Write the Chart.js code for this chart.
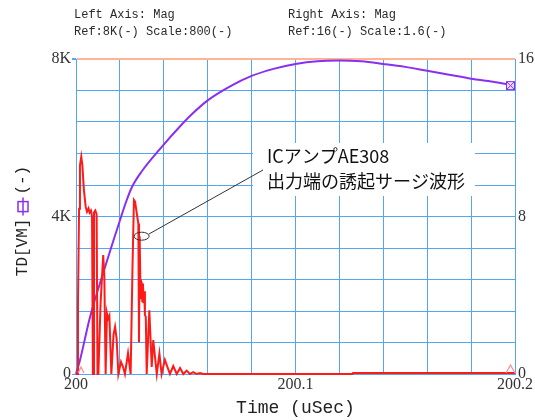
<!DOCTYPE html>
<html>
<head>
<meta charset="utf-8">
<script src="https://cdn.jsdelivr.net/npm/chart.js@4"></script>
<style>
  html, body { margin: 0; padding: 0; background: #fff; }
  canvas { display: block; }
</style>
</head>
<body>
<canvas id="myChart" width="535" height="420"></canvas>
<script>
// red trace (left axis, 0..8K)
const redT = [200.0000, 200.0007, 200.0009, 200.0014, 200.0018, 200.0024, 200.0029, 200.0036, 200.0044, 200.0050,
  200.0057, 200.0062, 200.0068, 200.0073, 200.0077, 200.0080, 200.0082, 200.0088, 200.0094, 200.0098,
  200.0102, 200.0112, 200.0124, 200.0129, 200.0135, 200.0141, 200.0146, 200.0152, 200.0161, 200.0171,
  200.0178, 200.0185, 200.0193, 200.0205, 200.0214, 200.0223, 200.0237, 200.0249, 200.0257, 200.0264,
  200.0269, 200.0277, 200.0284, 200.0287, 200.0290, 200.0293, 200.0296, 200.0299, 200.0302, 200.0305,
  200.0308, 200.0311, 200.0314, 200.0318, 200.0322, 200.0334, 200.0345, 200.0352, 200.0368, 200.0380,
  200.0390, 200.0405, 200.0428, 200.0443, 200.0459, 200.0474, 200.0489, 200.0504, 200.0519, 200.0534,
  200.0550, 200.0565, 200.0580, 200.1260, 200.1262, 200.2000];
const redV = [0, 0, 1800, 4200, 5300, 5520, 5300, 4670, 4250, 4120,
  4210, 4100, 4150, 4000, 0, 0, 4100, 4150, 4050, 0,
  0, 1800, 3020, 2500, 0, 1540, 1400, 1480, 0, 1000,
  1200, 900, 0, 310, 185, 0, 530, 0, 2600, 4420,
  4380, 4080, 3820, 800, 3500, 2400, 1900, 2350, 1850, 2300,
  1800, 2100, 1500, 1450, 0, 1620, 180, 860, 0, 520,
  0, 360, 0, 200, 0, 150, 0, 85, 0, 50,
  0, 25, 0, 0, 25, 25];

// purple trace (right axis, 0..16)
const purpleT = [200.0000, 200.0018, 200.0064, 200.0123, 200.0200, 200.0230, 200.0255, 200.0300, 200.0380, 200.0488,
  200.0530, 200.0600, 200.0700, 200.0800, 200.0900, 200.1000, 200.1100, 200.1200, 200.1300, 200.1400,
  200.1500, 200.1600, 200.1700, 200.1800, 200.1900, 200.2000];
const purpleV = [0, 0.7, 2.9, 5.1, 7.8, 8.8, 9.5, 10.3, 11.4, 12.75,
  13.22, 13.9, 14.6, 15.14, 15.5, 15.75, 15.89, 15.92, 15.88, 15.75,
  15.6, 15.4, 15.2, 15.0, 14.85, 14.65];

const xTicks = [200, 200.1, 200.2];
const xTickLabels = ['200', '200.1', '200.2'];
const leftTicks = [0, 4000, 8000];
const leftTickLabels = ['0', '4K', '8K'];
const rightTicks = [0, 8, 16];
const rightTickLabels = ['0', '8', '16'];

const headerLeft = ['Left Axis: Mag', 'Ref:8K(-) Scale:800(-)'];
const headerRight = ['Right Axis: Mag', 'Ref:16(-) Scale:1.6(-)'];
const yTitleParts = ['TD[VM]', '(-)'];
const xTitle = 'Time (uSec)';
const noteLines = ['ICアンプAE308', '出力端の誘起サージ波形'];
const noteT = 200.0299, noteV = 3500;

const red = '#ff1a1a';
const purple = '#8a2ff0';
const pink = '#ff8a8a';
const gridBlue = '#55a5f5';
const salmon = '#ffb595';

function labelFor(v, ticks, labels) {
  for (let i = 0; i < ticks.length; i++) {
    if (Math.abs(v - ticks[i]) < 1e-6) return labels[i];
  }
  return '';
}

// end markers
const sqMark = document.createElement('canvas');
sqMark.width = 20; sqMark.height = 11;
(function () {
  const c = sqMark.getContext('2d');
  c.fillStyle = '#eadcff';
  c.fillRect(1.5, 1.5, 8, 8);
  c.strokeStyle = purple; c.lineWidth = 1;
  c.strokeRect(1.5, 1.5, 8, 8);
  c.beginPath();
  c.moveTo(1.5, 1.5); c.lineTo(9.5, 9.5);
  c.moveTo(9.5, 1.5); c.lineTo(1.5, 9.5);
  c.stroke();
})();
const endMark = document.createElement('canvas');
endMark.width = 20; endMark.height = 20;
(function () {
  const c = endMark.getContext('2d');
  c.strokeStyle = pink; c.lineWidth = 1.2;
  c.beginPath(); c.moveTo(1, 10); c.lineTo(5.5, 2); c.lineTo(10, 10); c.stroke();
})();
const startMark = document.createElement('canvas');
startMark.width = 20; startMark.height = 20;
(function () {
  const c = startMark.getContext('2d');
  c.strokeStyle = pink; c.lineWidth = 1.2;
  c.beginPath(); c.moveTo(12, 9); c.lineTo(15, 3); c.lineTo(18, 9); c.stroke();
})();

const overlay = {
  id: 'overlay',
  afterDraw(chart) {
    const ctx = chart.ctx;
    ctx.save();
    // header
    ctx.fillStyle = '#2a2a2a';
    ctx.font = '12px "Liberation Mono"';
    ctx.textBaseline = 'middle';
    ctx.textAlign = 'left';
    headerLeft.forEach((s, i) => ctx.fillText(s, 74, 15 + i * 17));
    headerRight.forEach((s, i) => ctx.fillText(s, 288, 15 + i * 17));

    // annotation
    const ex = chart.scales.x.getPixelForValue(noteT);
    const ey = chart.scales.y.getPixelForValue(noteV);
    ctx.fillStyle = '#fff';
    ctx.fillRect(253, 143, 222, 53);
    ctx.strokeStyle = '#333';
    ctx.lineWidth = 1;
    ctx.beginPath();
    ctx.ellipse(ex, ey, 7.5, 4, 0, 0, Math.PI * 2);
    ctx.stroke();
    ctx.beginPath();
    ctx.moveTo(ex + 7, ey - 2);
    ctx.lineTo(263, 170);
    ctx.stroke();
    ctx.fillStyle = '#111';
    ctx.font = '18px "Noto Sans CJK JP"';
    ctx.fillText(noteLines[0], 267, 156);
    ctx.fillText(noteLines[1], 267, 181);

    // y title with series symbol
    ctx.translate(23, 221);
    ctx.rotate(-Math.PI / 2);
    ctx.font = '16px "Liberation Mono"';
    ctx.fillStyle = '#222';
    const wa = ctx.measureText(yTitleParts[0]).width;
    const wb = ctx.measureText(yTitleParts[1]).width;
    const ws = 18, gap = 3;
    const x0 = -(wa + ws + wb + 2 * gap) / 2;
    ctx.fillText(yTitleParts[0], x0, 0);
    const sx = x0 + wa + gap;
    ctx.strokeStyle = purple;
    ctx.lineWidth = 1.5;
    ctx.beginPath(); ctx.moveTo(sx, 0); ctx.lineTo(sx + ws, 0); ctx.stroke();
    ctx.strokeRect(sx + ws / 2 - 5, -5, 10, 10);
    ctx.fillText(yTitleParts[1], sx + ws + gap, 0);
    ctx.restore();
  }
};

const ctx = document.getElementById('myChart');

new Chart(ctx, {
  type: 'line',
  data: {
    datasets: [{
      label: 'TD',
      data: redT.map((t, i) => ({ x: t, y: redV[i] })),
      yAxisID: 'y',
      borderColor: red,
      borderWidth: 2,
      tension: 0,
      clip: false,
      pointRadius: c => (c.dataIndex === 0 || c.dataIndex === redT.length - 1) ? 5 : 0,
      pointStyle: c => c.dataIndex === 0 ? startMark : endMark
    }, {
      label: 'VM',
      data: purpleT.map((t, i) => ({ x: t, y: purpleV[i] })),
      yAxisID: 'y1',
      borderColor: purple,
      borderWidth: 2,
      cubicInterpolationMode: 'monotone',
      clip: false,
      pointRadius: c => c.dataIndex === purpleT.length - 1 ? 5 : 0,
      pointStyle: sqMark
    }]
  },
  options: {
    responsive: false,
    animation: false,
    layout: { padding: { top: 59, left: 0, right: 0, bottom: 0 } },
    plugins: { legend: { display: false }, tooltip: { enabled: false } },
    scales: {
      x: {
        type: 'linear',
        min: 200, max: 200.2,
        afterFit: s => { s.height = 46; },
        ticks: {
          stepSize: 0.02,
          autoSkip: false,
          maxRotation: 0,
          padding: 1,
          color: '#333',
          font: { family: 'Liberation Serif', size: 16 },
          callback: v => labelFor(v, xTicks, xTickLabels)
        },
        grid: { color: gridBlue, lineWidth: 1, drawTicks: false },
        border: { color: gridBlue },
        title: {
          display: true, text: xTitle, color: '#222',
          font: { family: 'Liberation Mono', size: 18 },
          padding: { top: 0, bottom: 1 }
        }
      },
      y: {
        position: 'left',
        min: 0, max: 8000,
        afterFit: s => { s.width = 76; },
        ticks: {
          stepSize: 800,
          autoSkip: false,
          padding: 1,
          color: '#333',
          font: { family: 'Liberation Serif', size: 16 },
          callback: v => labelFor(v, leftTicks, leftTickLabels)
        },
        grid: {
          color: c => c.tick && c.tick.value === 8000 ? salmon : gridBlue,
          lineWidth: c => c.tick && c.tick.value === 8000 ? 2 : 1,
          tickLength: 4,
          tickColor: c => c.tick && c.tick.value % 4000 === 0 ? gridBlue : 'rgba(0,0,0,0)'
        },
        border: { color: gridBlue }
      },
      y1: {
        position: 'right',
        min: 0, max: 16,
        afterFit: s => { s.width = 20; },
        ticks: {
          stepSize: 1.6,
          autoSkip: false,
          padding: 3,
          color: '#333',
          font: { family: 'Liberation Serif', size: 16 },
          callback: v => labelFor(v, rightTicks, rightTickLabels)
        },
        grid: { drawOnChartArea: false, drawTicks: false },
        border: { color: gridBlue }
      }
    }
  },
  plugins: [overlay]
});
</script>
</body>
</html>
